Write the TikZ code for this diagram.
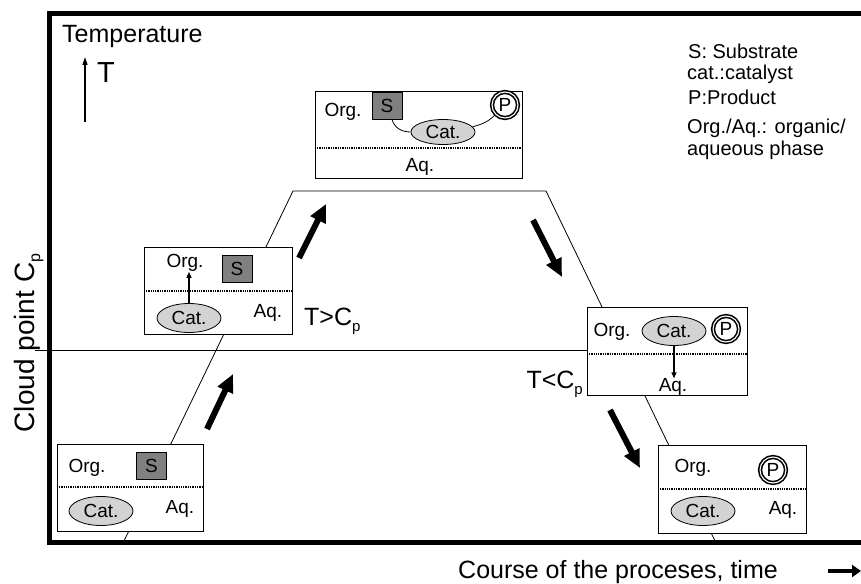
\documentclass[tikz,border=0pt]{standalone}
\usepackage{fontspec}
\setmainfont{Liberation Sans}
\usetikzlibrary{arrows.meta, shapes.geometric, calc}
\definecolor{subgray}{HTML}{808080}
\definecolor{catgray}{HTML}{D3D3D3}
\newcommand{\cpsub}[1]{\raisebox{-6pt}{\fontsize{#1}{#1}\selectfont p}}

\begin{document}
\begin{tikzpicture}[
  x=1pt, y=-1pt,
  phasebox/.style={draw, fill=white, line width=0.8pt, inner sep=0pt},
  phaseline/.style={line width=1.3pt, densely dotted},
  smalltxt/.style={font=\fontsize{19}{22}\selectfont, inner sep=0pt},
  legtxt/.style={font=\fontsize{20}{24}\selectfont, inner sep=0pt, anchor=base west},
  bigtxt/.style={font=\fontsize{25}{30}\selectfont, inner sep=0pt},
  subnode/.style={draw, fill=subgray, line width=0.8pt, minimum width=30pt,
    minimum height=27pt, inner sep=0pt, font=\fontsize{19}{22}\selectfont},
  catnode/.style={ellipse, draw, fill=catgray, line width=0.8pt, minimum width=64pt,
    minimum height=29pt, inner sep=0pt, font=\fontsize{19}{22}\selectfont},
  prodnode/.style={circle, draw, line width=1.6pt, double, double distance=1.1pt,
    minimum size=26pt, inner sep=0pt, font=\fontsize{19}{22}\selectfont},
  bigarrow/.style={line width=6pt, -{Triangle[length=18pt, width=16pt]}},
  thinarrow/.style={line width=1.3pt, -{Triangle[length=6pt, width=5pt]}},
]

\useasboundingbox (0,0) rectangle (861,583);

% Frame
\draw[line width=5pt] (875,14) -- (49.5,14) -- (49.5,542) -- (875,542);

% Temperature axis
\node[bigtxt, anchor=base west] (temp) at (62,43) {Temperature};
\coordinate (tbot) at (85,122);
\coordinate (ttop) at (85,57);
\draw[line width=1.5pt, -{Triangle[length=8pt, width=5pt]}] (tbot) -- (ttop);
\node[font=\fontsize{29}{34}\selectfont, inner sep=0pt, anchor=base west] (tsym) at (97,83) {T};

% Cloud point label
\node[font=\fontsize{28}{33}\selectfont, rotate=90, anchor=base, inner sep=0pt] (cplbl)
  at (34,343) {Cloud point C\cpsub{16}};

% Process track
\coordinate (t0) at (123,543);
\coordinate (t1) at (293,191);
\coordinate (t2) at (546,191);
\coordinate (t3) at (716,543);
\draw[line width=0.8pt] (t0) -- (t1) -- (t2) -- (t3);

% ========================================
% Phase boxes
% ========================================
\node[phasebox, minimum width=146pt, minimum height=87pt] (b1) at (130,487.5) {};
\node[phasebox, minimum width=148pt, minimum height=87pt] (b2) at (218,290.5) {};
\node[phasebox, minimum width=207pt, minimum height=87pt] (b3) at (418.5,134.5) {};
\node[phasebox, minimum width=160pt, minimum height=88pt] (b4) at (667,351) {};
\node[phasebox, minimum width=148pt, minimum height=88pt] (b5) at (732,489) {};

% Cloud point line
\coordinate (cp) at (35,350);
\draw[line width=0.8pt] (cp) -- (b4.west |- cp);

% Phase borders
\draw[phaseline] (b1.west |- 0,487) -- (b1.east |- 0,487);
\draw[phaseline] (b2.west |- 0,291) -- (b2.east |- 0,291);
\draw[phaseline] (b3.west |- 0,148) -- (b3.east |- 0,148);
\draw[phaseline] (b4.west |- 0,354) -- (b4.east |- 0,354);
\draw[phaseline] (b5.west |- 0,489) -- (b5.east |- 0,489);

% Box 1: cold start
\node[smalltxt] (o1) at (87,468) {Org.};
\node[subnode] (s1) at (151.5,465.5) {S};
\node[catnode] (c1) at (101,511) {Cat.};
\node[smalltxt] (a1) at (180,509) {Aq.};

% Box 2: heating
\node[smalltxt] (o2) at (185,263) {Org.};
\node[subnode] (s2) at (237,269) {S};
\node[catnode] (c2) at (189,318) {Cat.};
\node[smalltxt] (a2) at (268,313) {Aq.};
\draw[thinarrow] (c2.north) -- (c2.north |- o2.south);
\node[bigtxt, anchor=base west] (hi) at (304,325) {T>C\cpsub{15}};

% Box 3: reaction
\node[smalltxt] (o3) at (343,112) {Org.};
\node[subnode] (s3) at (387,105.5) {S};
\node[catnode, minimum height=25pt] (c3) at (443,132) {Cat.};
\node[prodnode] (pr3) at (505,105) {P};
\node[smalltxt] (a3) at (420,167) {Aq.};
\draw[line width=0.8pt] ([xshift=5pt]s3.south) to[out=-75, in=180] (c3.west);
\draw[line width=0.8pt] (c3.10) to[out=15, in=-135] (pr3.south west);

% Box 4: cooling
\node[smalltxt] (o4) at (612,332) {Org.};
\node[catnode] (c4) at (674,331) {Cat.};
\node[prodnode] (pr4) at (726,329) {P};
\node[smalltxt] (a4) at (673,387) {Aq.};
\draw[thinarrow] (c4.south) -- (c4.south |- a4.north);
\node[bigtxt, anchor=base east] (lo) at (583,388) {T<C\cpsub{15}};

% Box 5: separated
\node[smalltxt] (o5) at (693,468) {Org.};
\node[prodnode] (pr5) at (773,470) {P};
\node[catnode] (c5) at (703,511) {Cat.};
\node[smalltxt] (a5) at (783,510) {Aq.};

% Step arrows
\coordinate (u1s) at (207,429);
\coordinate (u1e) at (233,374);
\coordinate (u2s) at (299,258);
\coordinate (u2e) at (326,204);
\coordinate (d1s) at (533,220);
\coordinate (d1e) at (562,277);
\coordinate (d2s) at (610,410);
\coordinate (d2e) at (640,468);
\draw[bigarrow] (u1s) -- (u1e);
\draw[bigarrow] (u2s) -- (u2e);
\draw[bigarrow] (d1s) -- (d1e);
\draw[bigarrow] (d2s) -- (d2e);

% Legend
\node[legtxt] (leg1) at (688,59) {S: Substrate};
\node[legtxt] (leg2) at (687,80) {cat.:catalyst};
\node[legtxt] (leg3) at (688,105) {P:Product};
\node[legtxt] (leg4) at (687,133) {Org./Aq.: organic/};
\node[legtxt] (leg5) at (687,155) {aqueous phase};

% Time axis
\node[bigtxt, anchor=base west] (course) at (458,578) {Course of the proceses, time};
\coordinate (tms) at (828,571);
\coordinate (tme) at (861,571);
\draw[line width=4pt, -{Triangle[length=9pt, width=12pt]}] (tms) -- (tme);

\end{tikzpicture}
\end{document}
